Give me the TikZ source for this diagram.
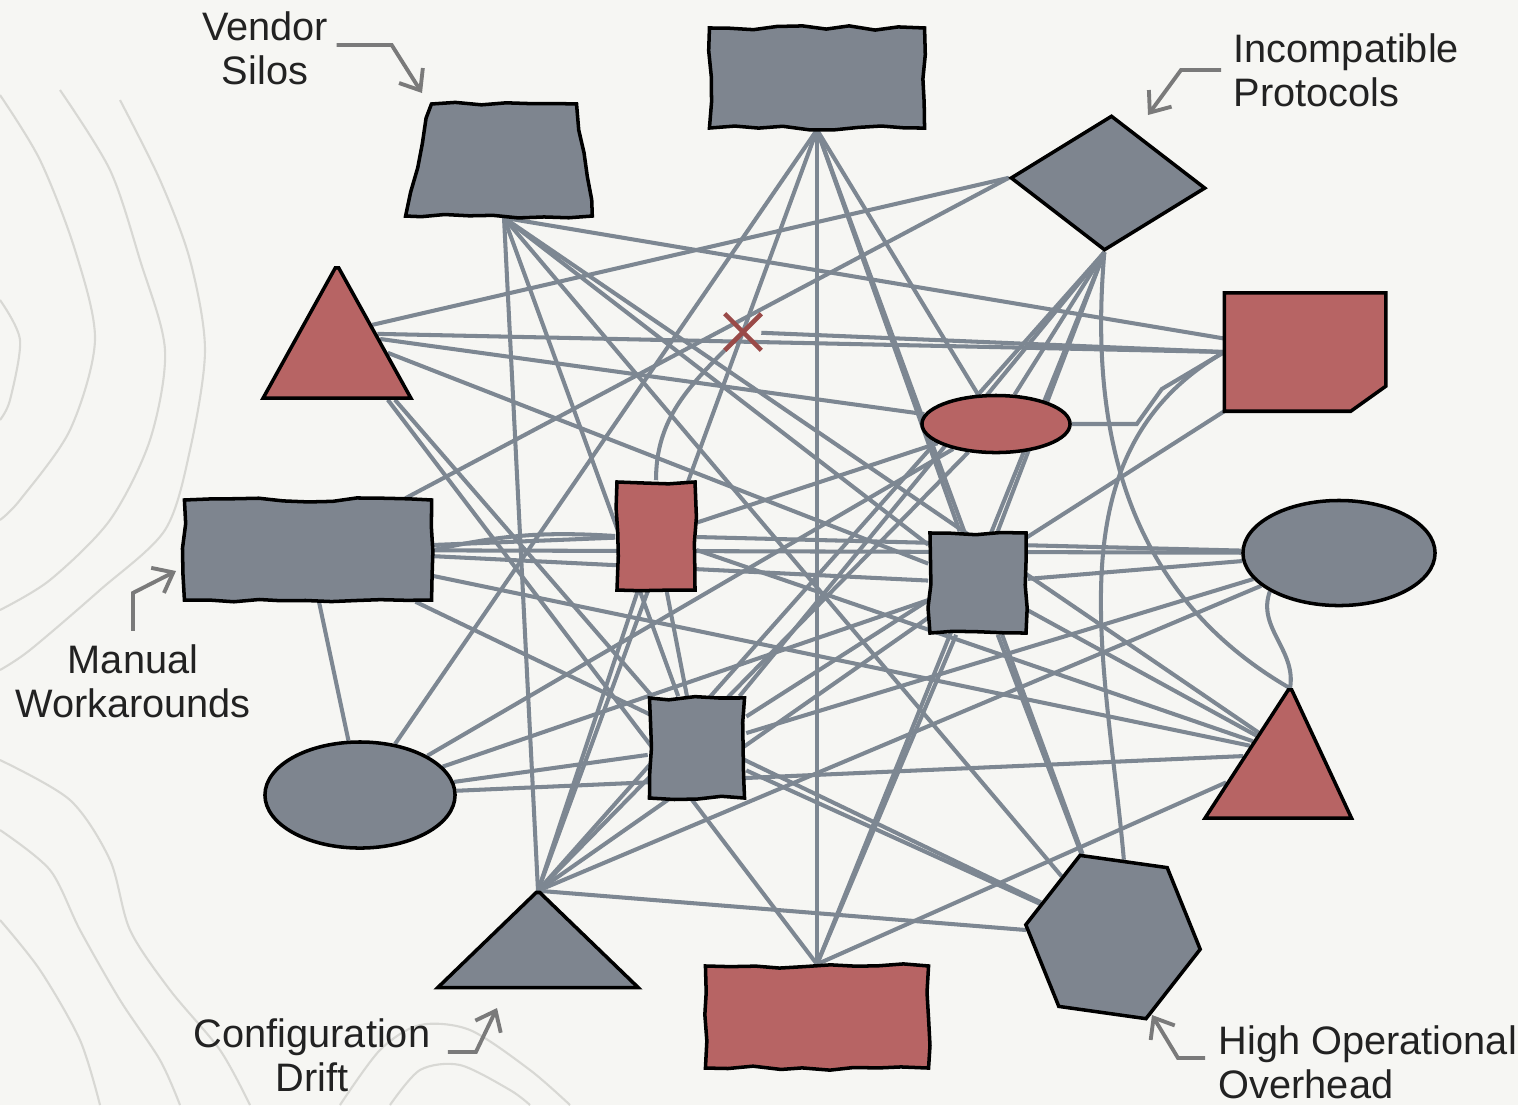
\documentclass[tikz,border=0pt]{standalone}
\usepackage{fontspec}
\setmainfont{Liberation Sans}
\usetikzlibrary{shapes.geometric,shapes.misc,decorations.pathmorphing,arrows.meta,calc}

\definecolor{papercol}{HTML}{F6F6F3}
\definecolor{slate}{HTML}{7E858F}
\definecolor{rust}{HTML}{B76464}
\definecolor{wirecol}{HTML}{7D8792}
\definecolor{arrowcol}{HTML}{7A7A7A}
\definecolor{contourcol}{HTML}{D8D8D4}
\definecolor{crosscol}{HTML}{9A4A48}
\definecolor{ink}{HTML}{222222}

\pgfdeclarelayer{paper}
\pgfdeclarelayer{wires}
\pgfsetlayers{paper,wires,main}

\tikzset{
  slab/.style={draw=black, line width=1pt, fill=slate, inner sep=0pt},
  brick/.style={slab, fill=rust},
  rough/.style={decorate, decoration={random steps, segment length=7pt, amplitude=0.6pt}},
  peak/.style={trapezium, inner xsep=0.5pt},
  wire/.style={draw=wirecol, line width=1.15pt},
  callout/.style={draw=arrowcol, line width=1.1pt, -{Straight Barb[length=5pt,width=8pt]}},
  lbl/.style={font=\fontsize{11.3}{12.4}\selectfont, inner sep=0pt, text=ink},
  contour/.style={draw=contourcol, line width=0.6pt}
}

\begin{document}
\begin{tikzpicture}[x=0.01cm, y=-0.01cm]
  \pgfmathsetseed{7}
  \useasboundingbox (0,0) rectangle (1518,1105);

  % paper and terrain lines
  \begin{pgfonlayer}{paper}
    \fill[papercol] (0,0) rectangle (1518,1105);
    \draw[contour] plot[smooth] coordinates {(0,95) (40,160) (75,250) (95,340) (70,430) (20,500) (0,520)};
    \draw[contour] plot[smooth] coordinates {(60,90) (110,170) (140,260) (165,350) (150,440) (110,520) (50,580) (0,610)};
    \draw[contour] plot[smooth] coordinates {(120,100) (160,180) (190,260) (205,350) (190,450) (165,530) (100,590) (30,650) (0,670)};
    \draw[contour] plot[smooth] coordinates {(0,300) (20,340) (10,400) (0,420)};
    \draw[contour] plot[smooth] coordinates {(0,760) (70,800) (110,860) (130,930) (170,990) (220,1050) (250,1105)};
    \draw[contour] plot[smooth] coordinates {(0,830) (50,870) (80,930) (120,1000) (160,1060) (180,1105)};
    \draw[contour] plot[smooth] coordinates {(0,920) (40,970) (80,1040) (100,1105)};
    \draw[contour] plot[smooth] coordinates {(340,1105) (380,1050) (420,1025) (470,1030) (530,1070) (570,1105)};
    \draw[contour] plot[smooth] coordinates {(390,1105) (420,1070) (460,1065) (510,1090) (530,1105)};
  \end{pgfonlayer}

  % systems
  \node[slab, rough, trapezium, trapezium left angle=77, trapezium right angle=82,
        inner xsep=0.725cm, inner ysep=0.56cm] (silo) at (504,160) {};
  \node[slab, rough, minimum width=2.15cm, minimum height=1cm] (hub) at (817,78) {};
  \node[slab, diamond, minimum width=1.95cm, minimum height=1.35cm, rotate=-3] (proto) at (1108,183) {};
  \node[brick, peak, trapezium left angle=61, trapezium right angle=61, inner ysep=0.65cm] (tril) at (337,333) {};
  \node[minimum width=1.6cm, minimum height=1.17cm] (rrect) at (1305,352) {};
  \draw[brick] (rrect.north west) -- (rrect.north east) -- ($(rrect.south east)+(0,-25)$)
    -- ($(rrect.south east)+(-35,0)$) -- (rrect.south west) -- cycle;
  \node[brick, ellipse, minimum width=1.48cm, minimum height=0.57cm] (rell) at (996,424) {};
  \node[slab, rough, minimum width=2.47cm, minimum height=1cm] (manual) at (308,550) {};
  \node[brick, rough, minimum width=0.78cm, minimum height=1.08cm] (rsmall) at (656,536) {};
  \node[slab, rough, minimum width=0.96cm, minimum height=1cm] (gsq) at (978,583) {};
  \node[slab, ellipse, minimum width=1.92cm, minimum height=1.05cm] (gellr) at (1339,553) {};
  \node[slab, ellipse, minimum width=1.9cm, minimum height=1.06cm] (gell) at (360,795) {};
  \node[slab, rough, minimum width=0.95cm, minimum height=1cm] (gsmall) at (697,748) {};
  \node[brick, peak, trapezium left angle=57, trapezium right angle=65, inner ysep=0.64cm] (trir) at (1290,754) {};
  \node[slab, peak, trapezium left angle=44, trapezium right angle=44, inner ysep=0.475cm] (tribot) at (538,940) {};
  \node[brick, rough, minimum width=2.23cm, minimum height=1.02cm] (rbot) at (817,1017) {};
  \node[slab, regular polygon, regular polygon sides=6, minimum size=1.76cm, rotate=-8] (hexa) at (1113,937) {};
  \node[draw=crosscol, cross out, line width=1.3pt, minimum size=0.32cm, inner sep=0pt] (brk) at (743,332) {};

  % tangle of links
  \begin{pgfonlayer}{wires}
    \foreach \a/\b in {silo.south/tribot.north, silo.south/gsmall, silo.south/gsq, silo.south/rrect,
                       silo.south/trir, silo.south/hexa,
                       hub.south/tribot.north, hub.south/gell, hub.south/rell, hub.south/gsq,
                       hub.south/hexa, hub.south/rbot.north,
                       proto.west/tril, proto.south/tribot.north, proto.south/gsmall, proto.south/rell,
                       proto.south/gsq, proto.south/rbot.north, proto.west/manual,
                       tril/rell, tril/gsq, tril/gsmall, tril/rbot.north, rrect.west/brk, rrect.west/tril,
                       manual/rsmall, manual/gell, manual/gsq, manual/hexa, manual/trir,
                       rsmall/gsmall, rsmall/rell, rsmall/gellr, rsmall/trir, rsmall/tribot.north,
                       rell/gell, rell/tribot.north,
                       gsq/gellr, gsq/gell, gsq/tribot.north, gsq/rbot.north, gsq/hexa, gsq/trir,
                       gellr/gsmall, gellr/tribot.north, gellr/manual, rrect.south west/gsmall,
                       gell/gsmall, gell/trir, tribot.north/hexa, gsmall/hexa, rbot.north/trir}
      \draw[wire] (\a) -- (\b);
    \draw[wire] (brk) to[out=225, in=90] (rsmall.north);
    \draw[wire] (rell.east) -- ++(65,0) -- ++(25,-35) -- (rrect.west);
    \draw[wire] (proto.south) to[out=-95, in=150] (trir.north);
    \draw[wire] (rrect.west) to[out=210, in=95] (hexa.north);
    \draw[wire] (gellr.south west) to[out=250, in=80] (trir.north);
    \draw[wire] (manual.east) to[bend left=8] (rsmall.west);
  \end{pgfonlayer}

  % pain points
  \node[lbl, align=center] (lblvendor) at (265,48) {Vendor\\Silos};
  \node[lbl, align=left, anchor=west] (lblproto) at (1233,70) {Incompatible\\Protocols};
  \node[lbl, align=center] (lblmanual) at (133,681) {Manual\\Workarounds};
  \node[lbl, align=center] (lblconfig) at (312,1055) {Configuration\\Drift};
  \node[lbl, align=left, anchor=west] (lblhigh) at (1218,1062) {High Operational\\Overhead};

  \coordinate (tipvendor) at (422,93);
  \coordinate (tipproto) at (1148,115);
  \coordinate (tipmanual) at (176,571);
  \coordinate (tipconfig) at (497,1008);
  \coordinate (tiphigh) at (1152,1015);

  \draw[callout] ($(lblvendor.east)+(8,-3)$) -- ++(55,0) -- (tipvendor);
  \draw[callout] ($(lblproto.west)+(-12,0)$) -- ++(-40,0) -- (tipproto);
  \draw[callout] ($(lblmanual.north)+(0,-13)$) -- ++(0,-38) -- (tipmanual);
  \draw[callout] ($(lblconfig.east)+(17,-3)$) -- ++(28,0) -- (tipconfig);
  \draw[callout] ($(lblhigh.west)+(-13,-4)$) -- ++(-27,0) -- (tiphigh);
\end{tikzpicture}
\end{document}
